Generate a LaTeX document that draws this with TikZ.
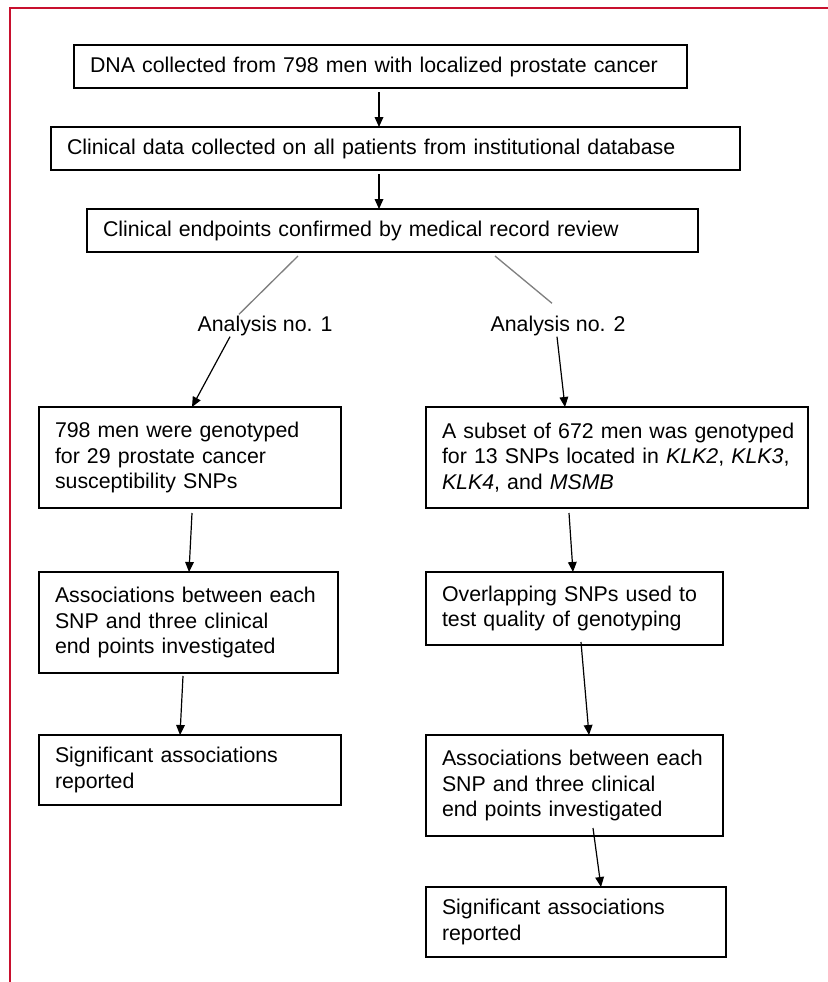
\documentclass[tikz,border=0pt]{standalone}
\usepackage{fontspec}
\setmainfont{Liberation Sans}
\usetikzlibrary{arrows.meta,calc}

\tikzset{
  flowbox/.style={draw, line width=1.2pt, outer sep=0pt, inner xsep=11.4pt, inner ysep=0pt, align=left, font=\fontsize{16}{19.3}\selectfont},
  flowarrow/.style={-{Triangle[length=7.5pt,width=6.5pt]}, line width=0.9pt},
  splitline/.style={color={rgb, 255:red, 128; green, 128; blue, 128 }, draw opacity=1, line width=1pt},
}

\begin{document}
\begin{tikzpicture}[x=0.75pt,y=0.75pt,yscale=-1,xscale=1]
\useasboundingbox (0,0) rectangle (828,982); %set diagram size 828 x 982

%Straight Lines [id:frame] 
\draw [color={rgb, 255:red, 200; green, 16; blue, 46 }  ,draw opacity=1 ][line width=0.9pt]   (10,982) -- (10,8) -- (828,8) ;

% Text Node
\draw (74,45) node [anchor=north west][flowbox, minimum width=459.75pt, text width=435.75pt, minimum height=32.25pt] (b1) {DNA collected from 798 men with localized prostate cancer};
% Text Node
\draw (51,127) node [anchor=north west][flowbox, minimum width=516.75pt, text width=492.75pt, minimum height=32.25pt] (b2) {Clinical data collected on all patients from institutional database};
% Text Node
\draw (87,209) node [anchor=north west][flowbox, minimum width=458.25pt, text width=434.25pt, minimum height=32.25pt] (b3) {Clinical endpoints confirmed by medical record review};

% Text Node
\draw (265,331) node [anchor=base][inner sep=0.75pt]  [font=\fontsize{16}{19.3}\selectfont]  (a1) {Analysis no. 1};
% Text Node
\draw (558,331) node [anchor=base][inner sep=0.75pt]  [font=\fontsize{16}{19.3}\selectfont]  (a2) {Analysis no. 2};

% Text Node
\draw (39,407) node [anchor=north west][flowbox, minimum width=226.5pt, text width=202.5pt, minimum height=75.75pt] (l1) {798 men were genotyped\\for 29 prostate cancer\\susceptibility SNPs};
% Text Node
\draw (39,572) node [anchor=north west][flowbox, minimum width=224.25pt, text width=200.25pt, minimum height=75.75pt] (l2) {Associations between each\\SNP and three clinical\\end points investigated};
% Text Node
\draw (39,735) node [anchor=north west][flowbox, minimum width=226.5pt, text width=202.5pt, minimum height=52.5pt] (l3) {Significant associations\\reported};

% Text Node
\draw (426,407) node [anchor=north west][flowbox, minimum width=286.5pt, text width=262.5pt, minimum height=75.75pt] (r1) {\mbox{A subset of 672 men was genotyped}\\for 13 SNPs located in \textit{KLK2}, \textit{KLK3},\\\textit{KLK4}, and \textit{MSMB}};
% Text Node
\draw (426,572) node [anchor=north west][flowbox, minimum width=222.75pt, text width=198.75pt, minimum height=54.75pt] (r2) {Overlapping SNPs used to\\test quality of genotyping};
% Text Node
\draw (426,735) node [anchor=north west][flowbox, minimum width=222.75pt, text width=198.75pt, minimum height=75.75pt] (r3) {Associations between each\\SNP and three clinical\\end points investigated};
% Text Node
\draw (426,887) node [anchor=north west][flowbox, minimum width=225pt, text width=201pt, minimum height=52.5pt] (r4) {Significant associations\\reported};

%Straight Lines [id:top] 
\draw [flowarrow]   ($(b1.south)+(-1.5,4)$) -- ($(b2.north)+(-16.5,0)$) ;
\draw [flowarrow]   ($(b2.south)+(-16.5,4)$) -- ($(b3.north)+(-13.5,0)$) ;
%Straight Lines [id:split] 
\draw [splitline]   ($(b3.south west)+(211,4)$) -- ($(a1.north)+(-26,0)$) ;
\draw [splitline]   ($(b3.south west)+(408,4)$) -- ($(a2.north)+(-6,-11)$) ;
\draw [flowarrow]   ($(a1.south)+(-35,0)$) -- ($(l1.north)+(2,0)$) ;
\draw [flowarrow]   ($(a2.south)+(-1,0)$) -- ($(r1.north west)+(139,0)$) ;
%Straight Lines [id:left] 
\draw [flowarrow]   ($(l1.south)+(2,5)$) -- ($(l2.north)+(0.5,0)$) ;
\draw [flowarrow]   ($(l2.south)+(-5.5,3)$) -- ($(l3.north)+(-10,0)$) ;
%Straight Lines [id:right] 
\draw [flowarrow]   ($(r1.south)+(-48,5)$) -- ($(r2.north)+(-1.5,0)$) ;
\draw [flowarrow]   ($(r2.south)+(6.5,-3)$) -- ($(r3.north)+(14.5,0)$) ;
\draw [flowarrow]   ($(r3.south)+(18.5,-8)$) -- ($(r4.north)+(25,0)$) ;

\end{tikzpicture}
\end{document}
